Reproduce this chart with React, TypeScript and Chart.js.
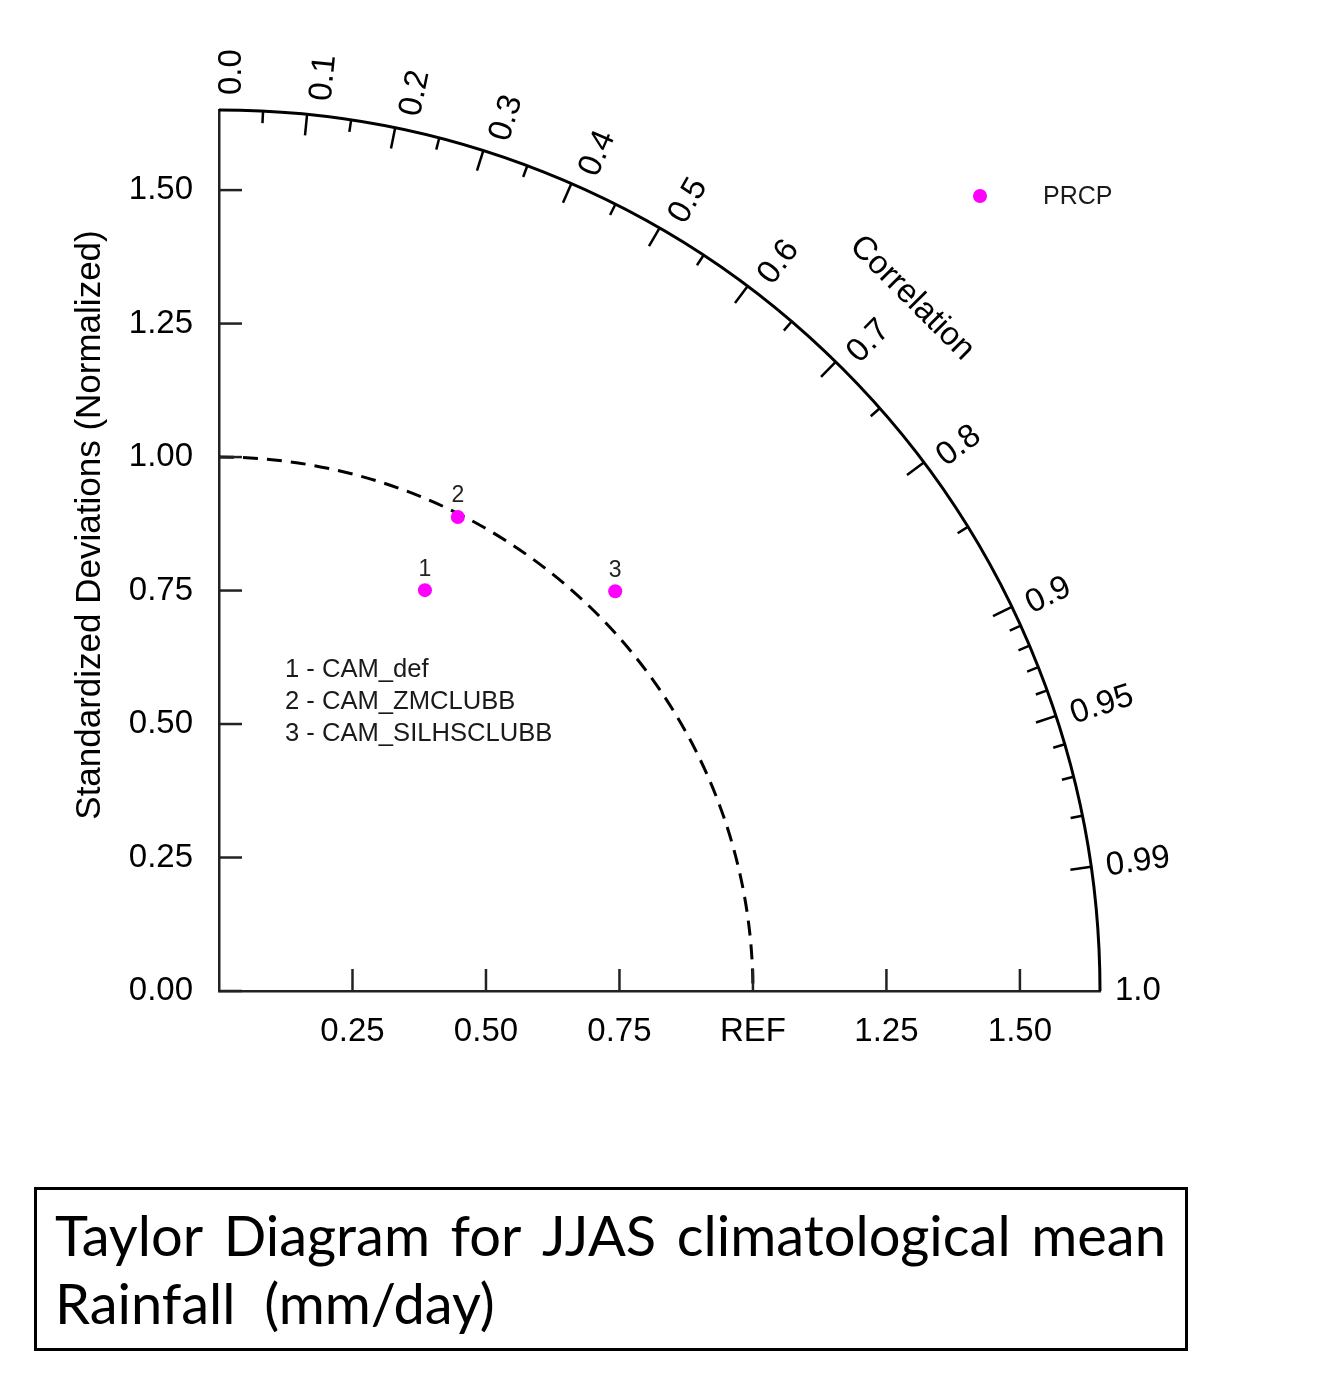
import React, { useEffect, useRef } from 'react';
import { Chart, registerables } from 'chart.js';

Chart.register(...registerables);

// ---------- data ----------
const modelIds = ['1', '2', '3'];
const modelNames = ['CAM_def', 'CAM_ZMCLUBB', 'CAM_SILHSCLUBB'];
const modelStdDevs = [0.844, 0.994, 1.054];
const modelCorrelations = [0.457, 0.45, 0.704];
const variableName = 'PRCP';

const maxStd = 1.65;
const refStd = 1.0;

const stdTicks = [0, 0.25, 0.5, 0.75, 1.0, 1.25, 1.5];
const stdTickLabels = ['0.00', '0.25', '0.50', '0.75', '1.00', '1.25', '1.50'];
const xTicks = [0.25, 0.5, 0.75, 1.0, 1.25, 1.5];
const xTickLabels = ['0.25', '0.50', '0.75', 'REF', '1.25', '1.50'];

const corrMajor = [0.1, 0.2, 0.3, 0.4, 0.5, 0.6, 0.7, 0.8, 0.9, 0.95, 0.99];
const corrMinor = [0.05, 0.15, 0.25, 0.35, 0.45, 0.55, 0.65, 0.75, 0.85, 0.91, 0.92, 0.93, 0.94, 0.96, 0.97, 0.98];
const corrLabelValues = [0, 0.1, 0.2, 0.3, 0.4, 0.5, 0.6, 0.7, 0.8, 0.9, 0.95, 0.99, 1.0];
const corrLabels = ['0.0', '0.1', '0.2', '0.3', '0.4', '0.5', '0.6', '0.7', '0.8', '0.9', '0.95', '0.99', '1.0'];

const yTitle = 'Standardized Deviations (Normalized)';
const corrTitle = 'Correlation';
const captionLine1 = ['Taylor', 'Diagram', 'for', 'JJAS', 'climatological', 'mean'];
const captionLine2 = 'Rainfall  (mm/day)';

const FONT = '"Liberation Sans", Arial, Helvetica, sans-serif';
const MARKER = '#ff00ff';

const taylorPlugin = {
  id: 'taylor',
  beforeDatasetsDraw(chart: any) {
    const { ctx, scales } = chart;
    const x = scales.x, y = scales.y;
    const cx = x.getPixelForValue(0);
    const cy = y.getPixelForValue(0);
    const rOuter = x.getPixelForValue(maxStd) - cx;
    const rRef = x.getPixelForValue(refStd) - cx;
    ctx.save();
    ctx.strokeStyle = '#000';
    ctx.lineCap = 'butt';
    // outer correlation arc
    ctx.lineWidth = 3;
    ctx.beginPath();
    ctx.arc(cx, cy, rOuter, -Math.PI / 2, 0);
    ctx.stroke();
    // reference arc (dashed)
    ctx.setLineDash([15, 9]);
    ctx.lineWidth = 3;
    ctx.beginPath();
    ctx.arc(cx, cy, rRef, -Math.PI / 2, 0);
    ctx.stroke();
    ctx.setLineDash([]);
    // correlation ticks (inward)
    ctx.lineWidth = 2.5;
    const tick = (c: number, len: number) => {
      const t = Math.acos(c);
      const co = Math.cos(t), si = Math.sin(t);
      ctx.beginPath();
      ctx.moveTo(cx + rOuter * co, cy - rOuter * si);
      ctx.lineTo(cx + (rOuter - len) * co, cy - (rOuter - len) * si);
      ctx.stroke();
    };
    corrMajor.forEach((c) => tick(c, 21));
    corrMinor.forEach((c) => tick(c, 12));
    // inside axis ticks
    ctx.strokeStyle = '#222';
    ctx.lineWidth = 2.5;
    stdTicks.forEach((v) => {
      const py = y.getPixelForValue(v);
      ctx.beginPath();
      ctx.moveTo(cx, py);
      ctx.lineTo(cx + 23, py);
      ctx.stroke();
    });
    xTicks.forEach((v) => {
      const px = x.getPixelForValue(v);
      ctx.beginPath();
      ctx.moveTo(px, cy);
      ctx.lineTo(px, cy - 22);
      ctx.stroke();
    });
    ctx.restore();
  },
  afterDatasetsDraw(chart: any) {
    const { ctx, scales, chartArea } = chart;
    const x = scales.x, y = scales.y;
    const cx = x.getPixelForValue(0);
    const cy = y.getPixelForValue(0);
    const rOuter = x.getPixelForValue(maxStd) - cx;
    ctx.save();
    // point labels
    const meta = chart.getDatasetMeta(0);
    ctx.fillStyle = '#222';
    ctx.font = `23px ${FONT}`;
    ctx.textAlign = 'center';
    ctx.textBaseline = 'middle';
    meta.data.forEach((el: any, i: number) => {
      ctx.fillText(modelIds[i], el.x, el.y - 21);
    });
    // correlation labels
    ctx.fillStyle = '#000';
    ctx.font = `33px ${FONT}`;
    ctx.textAlign = 'left';
    ctx.textBaseline = 'middle';
    corrLabelValues.forEach((c, i) => {
      const t = Math.acos(c);
      const co = Math.cos(t), si = Math.sin(t);
      const rr = rOuter + 15;
      const off = 13 * si;
      const ax = cx + rr * co + off * si;
      const ay = cy - rr * si + off * co;
      ctx.save();
      ctx.translate(ax, ay);
      ctx.rotate(-t);
      ctx.fillText(corrLabels[i], 0, 0);
      ctx.restore();
    });
    // "Correlation" title along arc
    {
      const t = Math.PI / 4;
      const rr = rOuter + 99;
      ctx.save();
      ctx.translate(cx + rr * Math.cos(t), cy - rr * Math.sin(t));
      ctx.rotate(Math.PI / 2 - t);
      ctx.textAlign = 'center';
      ctx.font = `33px ${FONT}`;
      ctx.fillText(corrTitle, 0, 0);
      ctx.restore();
    }
    // y axis title
    ctx.save();
    ctx.translate(90, 525);
    ctx.rotate(-Math.PI / 2);
    ctx.textAlign = 'center';
    ctx.font = `35px ${FONT}`;
    ctx.fillText(yTitle, 0, 0);
    ctx.restore();
    // model legend
    ctx.fillStyle = '#1a1a1a';
    ctx.font = `25.6px ${FONT}`;
    ctx.textAlign = 'left';
    modelNames.forEach((n, i) => {
      ctx.fillText(`${modelIds[i]} - ${n}`, chartArea.left + 66, chartArea.top + 560 + 32 * i);
    });
    // variable legend
    const lx = chartArea.right - 120;
    const ly = chartArea.top + 86;
    ctx.fillStyle = MARKER;
    ctx.beginPath();
    ctx.arc(lx, ly, 7, 0, Math.PI * 2);
    ctx.fill();
    ctx.fillStyle = '#1a1a1a';
    ctx.font = `25px ${FONT}`;
    ctx.fillText(variableName, lx + 63, ly + 1);
    ctx.restore();
  },
};

export default function App() {
  const ref = useRef<HTMLCanvasElement | null>(null);
  useEffect(() => {
    if (!ref.current) return;
    const points = modelStdDevs.map((s, i) => ({
      x: s * modelCorrelations[i],
      y: s * Math.sqrt(1 - modelCorrelations[i] * modelCorrelations[i]),
    }));
    const chart = new Chart(ref.current, {
      type: 'scatter',
      data: {
        datasets: [
          {
            label: 'models',
            data: points,
            pointRadius: 7,
            pointHoverRadius: 7,
            pointBackgroundColor: MARKER,
            pointBorderWidth: 0,
            borderColor: MARKER,
            backgroundColor: MARKER,
          },
        ],
      },
      options: {
        responsive: false,
        animation: false,
        devicePixelRatio: 1,
        layout: { padding: { left: 0, right: 235, top: 110, bottom: 0 } },
        plugins: { legend: { display: false }, tooltip: { enabled: false }, title: { display: false } },
        scales: {
          x: {
            type: 'linear',
            min: 0,
            max: maxStd,
            grid: { display: false, drawTicks: false },
            border: { display: true, color: '#222', width: 2.5 },
            afterBuildTicks: (s: any) => {
              s.ticks = xTicks.map((v) => ({ value: v }));
            },
            afterFit: (s: any) => {
              s.height = 109;
            },
            ticks: {
              autoSkip: false,
              maxRotation: 0,
              padding: 21,
              color: '#000',
              font: { family: FONT, size: 33 },
              callback: (_v: any, i: number) => xTickLabels[i],
            },
          },
          y: {
            type: 'linear',
            min: 0,
            max: maxStd,
            grid: { display: false, drawTicks: false },
            border: { display: true, color: '#222', width: 2.5 },
            afterBuildTicks: (s: any) => {
              s.ticks = stdTicks.map((v) => ({ value: v }));
            },
            afterFit: (s: any) => {
              s.width = 219;
            },
            ticks: {
              autoSkip: false,
              padding: 26,
              color: '#000',
              font: { family: FONT, size: 33 },
              callback: (_v: any, i: number) => stdTickLabels[i],
            },
          },
        },
      },
      plugins: [taylorPlugin],
    });
    return () => chart.destroy();
  }, []);

  return (
    <div style={{ position: 'fixed', left: 0, top: 0, width: 1335, height: 1385, background: '#fff' }}>
      <canvas ref={ref} width={1335} height={1100} style={{ position: 'absolute', left: 0, top: 0, width: 1335, height: 1100 }} />
      <div
        style={{
          position: 'absolute',
          left: 34,
          top: 1187,
          width: 1154,
          height: 164,
          border: '3px solid #000',
          boxSizing: 'border-box',
        }}
      />
      <div
        style={{
          position: 'absolute',
          left: 55,
          top: 1207,
          width: 1111,
          display: 'flex',
          justifyContent: 'space-between',
          fontFamily: 'Lato, "Open Sans", sans-serif',
          fontSize: 56,
          lineHeight: '56px',
          color: '#000',
          whiteSpace: 'nowrap',
        }}
      >
        {captionLine1.map((w) => (
          <span key={w}>{w}</span>
        ))}
      </div>
      <div
        style={{
          position: 'absolute',
          left: 55,
          top: 1275,
          fontFamily: 'Lato, "Open Sans", sans-serif',
          fontSize: 56,
          lineHeight: '56px',
          color: '#000',
          whiteSpace: 'pre',
        }}
      >
        {captionLine2}
      </div>
    </div>
  );
}
